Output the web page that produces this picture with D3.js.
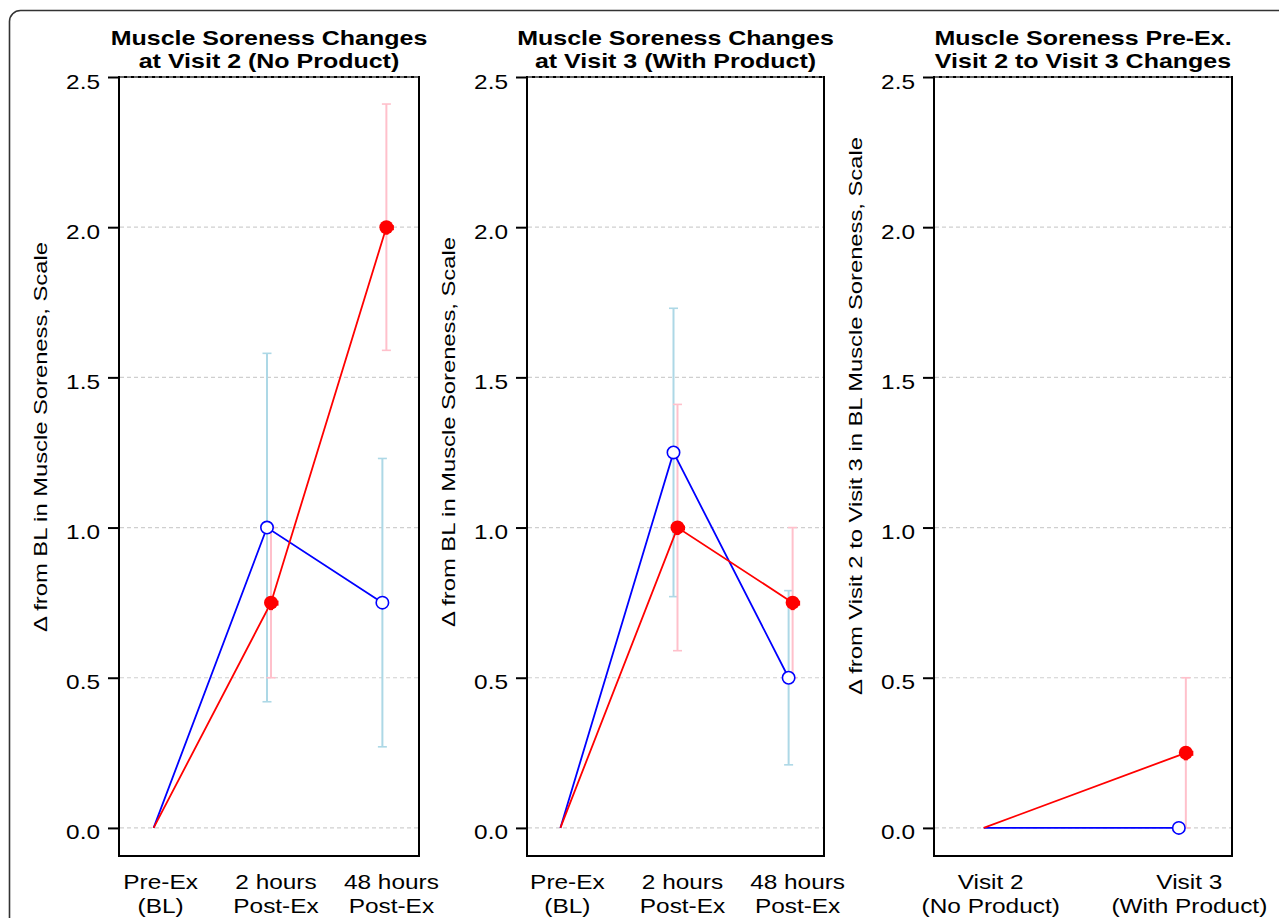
<!DOCTYPE html>
<html>
<head>
<meta charset="utf-8">
<script src="https://cdn.jsdelivr.net/npm/d3@7"></script>
<style>
  html, body { margin: 0; padding: 0; background: #ffffff; }
  svg { display: block; font-family: "Liberation Sans", Arial, Helvetica, sans-serif; }
</style>
</head>
<body>
<svg id="chart" width="1279" height="918"></svg>
<script>
// ---------------- DATA ----------------
const timeCategories = [["Pre-Ex", "(BL)"], ["2 hours", "Post-Ex"], ["48 hours", "Post-Ex"]];
const visitCategories = [["Visit 2", "(No Product)"], ["Visit 3", "(With Product)"]];

const yTicks = [0, 0.5, 1.0, 1.5, 2.0, 2.5];

const titleVisit2 = ["Muscle Soreness Changes", "at Visit 2 (No Product)"];
const titleVisit3 = ["Muscle Soreness Changes", "at Visit 3 (With Product)"];
const titleChange = ["Muscle Soreness Pre-Ex.", "Visit 2 to Visit 3 Changes"];

const yLabelTime = "\u0394 from BL in Muscle Soreness, Scale";
const yLabelChange = "\u0394 from Visit 2 to Visit 3 in BL Muscle Soreness, Scale";

// Visit 2 (No Product)
const visit2Blue = [0, 1.00, 0.75];
const visit2BlueErr = [null, 0.58, 0.48];
const visit2Red = [0, 0.75, 2.00];
const visit2RedErr = [null, 0.25, 0.41];

// Visit 3 (With Product)
const visit3Blue = [0, 1.25, 0.50];
const visit3BlueErr = [null, 0.48, 0.29];
const visit3Red = [0, 1.00, 0.75];
const visit3RedErr = [null, 0.41, 0.25];

// Visit 2 -> Visit 3 change in baseline
const changeBlue = [0, 0.00];
const changeBlueErr = [null, 0.00];
const changeRed = [0, 0.25];
const changeRedErr = [null, 0.25];

// ---------------- LAYOUT ----------------
const svg = d3.select("#chart");
const FONT_SX = 1.22;   // horizontal stretch of the original rendering
const TITLE_SX = 1.19;

const y = d3.scaleLinear().domain([-0.0935, 2.5]).range([856, 77]);

// outer rounded frame
svg.append("rect")
  .attr("x", 9.5).attr("y", 10.5)
  .attr("width", 1300).attr("height", 950)
  .attr("rx", 11).attr("ry", 11)
  .attr("fill", "none").attr("stroke", "#333").attr("stroke-width", 1.6);

const styles = {
  blue: { line: "#0000ff", err: "#add8e6", open: true },
  red:  { line: "#ff0000", err: "#ffc0cb", open: false }
};

const panels = [
  { left: 119, right: 419, pad: 0.3, cats: timeCategories, title: titleVisit2, ylab: yLabelTime, ylabY: 437, dodge: 2,
    series: [ { key: "blue", v: visit2Blue, e: visit2BlueErr }, { key: "red", v: visit2Red, e: visit2RedErr } ] },
  { left: 527, right: 824, pad: 0.29, cats: timeCategories, title: titleVisit3, ylab: yLabelTime, ylabY: 432, dodge: 2,
    series: [ { key: "blue", v: visit3Blue, e: visit3BlueErr }, { key: "red", v: visit3Red, e: visit3RedErr } ] },
  { left: 934, right: 1232, pad: 0.25, cats: visitCategories, title: titleChange, ylab: yLabelChange, ylabY: 416, dodge: 3.5,
    series: [ { key: "blue", v: changeBlue, e: changeBlueErr }, { key: "red", v: changeRed, e: changeRedErr } ] }
];

function stretchedText(g, x, y0, str, size, opts = {}) {
  const t = g.append("text")
    .attr("transform", `translate(${x},${y0})` + (opts.rotate ? ` rotate(${opts.rotate})` : "") + ` scale(${opts.sx || FONT_SX},1)`)
    .attr("text-anchor", opts.anchor || "middle")
    .attr("font-size", size)
    .attr("font-weight", opts.bold ? "bold" : "normal")
    .attr("fill", "#000")
    .text(str);
  return t;
}

panels.forEach(p => {
  const g = svg.append("g");
  const idx = d3.range(p.cats.length);
  const x = d3.scalePoint().domain(idx).range([p.left, p.right]).padding(p.pad);

  // box
  g.append("rect")
    .attr("x", p.left).attr("y", y(2.5))
    .attr("width", p.right - p.left).attr("height", y.range()[0] - y(2.5))
    .attr("fill", "none").attr("stroke", "#000").attr("stroke-width", 2);

  // gridlines
  g.selectAll("line.grid").data(yTicks).join("line")
    .attr("class", "grid")
    .attr("x1", p.left + 1).attr("x2", p.right - 1)
    .attr("y1", d => y(d)).attr("y2", d => y(d))
    .attr("stroke", "#cfcfcf").attr("stroke-width", 1.2)
    .attr("stroke-dasharray", "4,3");

  // y axis ticks
  const yAxis = d3.axisLeft(y).tickValues(yTicks).tickFormat(d3.format(".1f")).tickSize(11).tickPadding(8);
  const ax = g.append("g").attr("transform", `translate(${p.left},0)`).call(yAxis);
  ax.select(".domain").remove();
  ax.selectAll(".tick line").attr("stroke", "#000").attr("stroke-width", 2);
  ax.selectAll(".tick text").remove();
  yTicks.forEach(t => {
    stretchedText(g, p.left - 19, y(t) + 11.5, d3.format(".1f")(t), 20, { anchor: "end" });
  });

  // titles
  stretchedText(g, (p.left + p.right) / 2, 45, p.title[0], 21, { bold: true, sx: TITLE_SX });
  stretchedText(g, (p.left + p.right) / 2, 68, p.title[1], 21, { bold: true, sx: TITLE_SX });

  // y label
  stretchedText(g, p.left - 72, p.ylabY, p.ylab, 19, { rotate: -90, sx: 1.25 });

  // x labels
  p.cats.forEach((c, i) => {
    stretchedText(g, x(i) + 7, 889, c[0], 20);
    stretchedText(g, x(i) + 7, 913, c[1], 20);
  });

  const off = k => (k === "blue" ? -p.dodge : p.dodge);
  const px = (k, i) => (i === 0 ? x(i) : x(i) + off(k));

  // error bars
  p.series.forEach(s => {
    const st = styles[s.key];
    s.v.forEach((v, i) => {
      const e = s.e[i];
      if (e === null || e === 0) return;
      const cx = px(s.key, i);
      g.append("line").attr("x1", cx).attr("x2", cx).attr("y1", y(v - e)).attr("y2", y(v + e))
        .attr("stroke", st.err).attr("stroke-width", 2);
      [v - e, v + e].forEach(b => {
        g.append("line").attr("x1", cx - 4.5).attr("x2", cx + 4.5).attr("y1", y(b)).attr("y2", y(b))
          .attr("stroke", st.err).attr("stroke-width", 1.6);
      });
    });
  });

  // lines
  p.series.forEach(s => {
    const st = styles[s.key];
    const line = d3.line().x((d, i) => px(s.key, i)).y(d => y(d));
    g.append("path").attr("d", line(s.v)).attr("fill", "none")
      .attr("stroke", st.line).attr("stroke-width", 1.8);
  });

  // markers (baseline point has none)
  p.series.forEach(s => {
    const st = styles[s.key];
    s.v.forEach((v, i) => {
      if (i === 0) return;
      const cx = px(s.key, i), cy = y(v);
      if (st.open) {
        g.append("circle").attr("cx", cx).attr("cy", cy).attr("r", 6.2)
          .attr("fill", "#fff").attr("stroke", st.line).attr("stroke-width", 1.6);
      } else {
        g.append("circle").attr("cx", cx).attr("cy", cy).attr("r", 7)
          .attr("fill", st.line);
        g.append("rect").attr("x", cx - 1).attr("y", cy - 2).attr("width", 8.5).attr("height", 5)
          .attr("fill", st.line);
        g.append("rect").attr("x", cx - 2).attr("y", cy - 1).attr("width", 4).attr("height", 8.5)
          .attr("fill", st.line);
      }
    });
  });
});
</script>
</body>
</html>
